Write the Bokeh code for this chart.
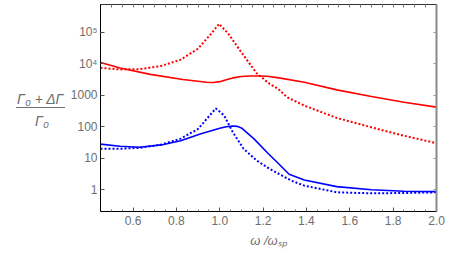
from bokeh.plotting import figure
from bokeh.layouts import row
from bokeh.models import (Range1d, LogAxis, LinearAxis, FixedTicker, CustomJSTickFormatter)
from bokeh.core.properties import value
from bokeh.embed import file_html
from bokeh.resources import INLINE

# ---- data ----
red_solid_x = [0.45, 0.54, 0.68, 0.83, 0.94, 0.97, 1.00, 1.03, 1.06, 1.10, 1.14, 1.18, 1.22, 1.28, 1.39, 1.54, 1.70, 1.85, 2.0]
red_solid_y = [11000, 7300, 4600, 3150, 2570, 2540, 2700, 3100, 3550, 3950, 4100, 4100, 4000, 3500, 2570, 1480, 910, 600, 420]

red_dot_x = [0.45, 0.54, 0.63, 0.73, 0.82, 0.90, 0.96, 0.997, 1.04, 1.10, 1.17, 1.23, 1.27, 1.31, 1.39, 1.54, 1.70, 1.85, 2.0]
red_dot_y = [7400, 6600, 6700, 8500, 13500, 30000, 89000, 185000, 89000, 23000, 5000, 2300, 1580, 870, 470, 190, 96, 52, 30]

blue_solid_x = [0.45, 0.54, 0.63, 0.73, 0.82, 0.91, 1.00, 1.03, 1.06, 1.08, 1.10, 1.157, 1.22, 1.28, 1.32, 1.39, 1.54, 1.70, 1.85, 2.0]
blue_solid_y = [28, 24, 22.3, 26.5, 36, 59, 89, 100, 106, 103, 92, 42, 15, 5.9, 3.1, 2.05, 1.26, 1.0, 0.9, 0.87]

blue_dot_x = [0.45, 0.54, 0.63, 0.73, 0.82, 0.90, 0.94, 0.982, 1.02, 1.06, 1.11, 1.17, 1.23, 1.28, 1.33, 1.39, 1.54, 1.70, 1.85, 2.0]
blue_dot_y = [20, 20, 21.4, 27, 42, 85, 178, 380, 230, 68, 20, 8.5, 4.6, 3.0, 1.95, 1.35, 0.83, 0.77, 0.79, 0.83]

x_tick_values = [0.6, 0.8, 1.0, 1.2, 1.4, 1.6, 1.8, 2.0]
x_tick_labels = ["0.6", "0.8", "1.0", "1.2", "1.4", "1.6", "1.8", "2.0"]
x_minor_ticks = [0.45, 0.5, 0.55, 0.65, 0.7, 0.75, 0.85, 0.9, 0.95, 1.05, 1.1, 1.15, 1.25, 1.3, 1.35,
                 1.45, 1.5, 1.55, 1.65, 1.7, 1.75, 1.85, 1.9, 1.95]
y_tick_values = [1, 10, 100, 1000, 10000, 100000]
y_tick_labels = ["1", "10", "100", "1000", "10\u2074", "10\u2075"]

x_label = "\u03c9 /\u03c9\u209b\u209a"
y_label_num = "\u0393\u2080 + \u0394\u0393"
y_label_den = "\u0393\u2080"

TXT = "#6e6e6e"
FONT = "Liberation Sans"
H = 252
BORDER_TOP, BORDER_BOTTOM = 4, 41
LOG_Y0, LOG_Y1 = -0.69, 5.88
yr = Range1d(10 ** LOG_Y0, 10 ** LOG_Y1)

# ---------------- main plot ----------------
p = figure(width=384, height=H, y_axis_type="log",
           x_range=Range1d(0.45, 2.0), y_range=yr,
           output_backend="svg", toolbar_location=None,
           min_border_left=34, min_border_right=14,
           min_border_top=BORDER_TOP, min_border_bottom=BORDER_BOTTOM)
p.xgrid.grid_line_color = None
p.ygrid.grid_line_color = None
p.outline_line_color = "#333333"
p.background_fill_color = "white"
p.border_fill_color = "white"

fmt_js = "const i = vals.findIndex(v => Math.abs(v - tick) <= 1e-6 * Math.abs(v)); return i >= 0 ? labs[i] : '';"
xfmt = CustomJSTickFormatter(args=dict(vals=x_tick_values, labs=x_tick_labels), code=fmt_js)
yfmt = CustomJSTickFormatter(args=dict(vals=y_tick_values, labs=y_tick_labels), code=fmt_js)


def style_axis(ax, line_color="black", line_width=1):
    ax.axis_line_color = line_color
    ax.axis_line_width = line_width
    ax.major_tick_in = 4
    ax.major_tick_out = 0
    ax.minor_tick_in = 2
    ax.minor_tick_out = 0
    ax.major_tick_line_color = "#555555"
    ax.minor_tick_line_color = "#777777"
    ax.major_label_text_color = TXT
    ax.major_label_text_font = FONT
    ax.major_label_text_font_size = "12px"


xax = p.xaxis[0]
xax.ticker = FixedTicker(ticks=x_tick_values, minor_ticks=x_minor_ticks)
xax.formatter = xfmt
style_axis(xax)
xax.major_label_standoff = 4
xax.axis_label = x_label
xax.axis_label_text_font = FONT
xax.axis_label_text_font_style = "italic"
xax.axis_label_text_font_size = "13px"
xax.axis_label_text_color = TXT
xax.axis_label_standoff = 5

yax = p.yaxis[0]
yax.ticker = FixedTicker(ticks=y_tick_values, minor_ticks=[])
yax.formatter = yfmt
style_axis(yax)
yax.major_label_standoff = 3

# frame ticks on top and right: drawn as label-free minor ticks
top = LinearAxis(ticker=FixedTicker(ticks=[], minor_ticks=sorted(x_tick_values + x_minor_ticks)))
style_axis(top, "#333333")
top.minor_tick_in = 3
p.add_layout(top, "above")

right = LogAxis(ticker=FixedTicker(ticks=[], minor_ticks=y_tick_values))
style_axis(right, "#8a8a8a", 2)
right.minor_tick_in = 3
right.minor_tick_line_color = "#999999"
p.add_layout(right, "right")

p.line(red_solid_x, red_solid_y, line_color="#ff0000", line_width=1.6)
p.line(red_dot_x, red_dot_y, line_color="#ff0000", line_width=2, line_dash="2 2")
p.line(blue_solid_x, blue_solid_y, line_color="#0000ff", line_width=1.6)
p.line(blue_dot_x, blue_dot_y, line_color="#0000ff", line_width=2, line_dash="2 2")

# ---------------- y label panel (fraction), same vertical frame as the main plot ----------------
frame_h = H - BORDER_TOP - BORDER_BOTTOM


def page_y(py):
    # convert a page pixel row into the shared log-y coordinate
    return 10 ** (LOG_Y1 - (py - BORDER_TOP) * (LOG_Y1 - LOG_Y0) / frame_h)


lab = figure(width=66, height=H, x_range=Range1d(0, 66), y_range=yr, y_axis_type="log",
             output_backend="svg", toolbar_location=None,
             x_axis_location=None, y_axis_location=None,
             min_border_left=0, min_border_right=0,
             min_border_top=BORDER_TOP, min_border_bottom=BORDER_BOTTOM)
lab.xgrid.grid_line_color = None
lab.ygrid.grid_line_color = None
lab.outline_line_color = None
lab.background_fill_color = "white"
lab.border_fill_color = "white"
lab.text(x=[40, 41.5], y=[page_y(98), page_y(120)], text=[y_label_num, y_label_den],
         text_font=value(FONT), text_font_style="italic", text_font_size="14px",
         text_color=TXT, text_align="center", text_baseline="middle")
lab.line(x=[15.5, 64.5], y=[page_y(107), page_y(107)], line_color=TXT, line_width=1)

layout = row(lab, p, spacing=0)
open("out.html", "w").write(file_html(layout, INLINE))
